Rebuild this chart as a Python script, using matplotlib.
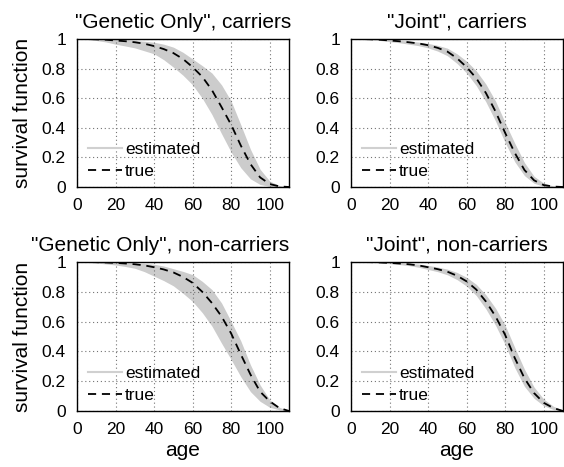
import matplotlib
matplotlib.use("Agg")
import matplotlib.pyplot as plt
from matplotlib.lines import Line2D

plt.rcParams['font.family'] = ['Liberation Sans', 'DejaVu Sans']

# ages and curves (every 5 years)
age = [0, 5, 10, 15, 20, 25, 30, 35, 40, 45, 50, 55, 60, 65, 70, 75, 80, 85, 90, 95, 100, 105, 110]

gen_car_true = [1.0, 1.0, 0.998, 0.995, 0.99, 0.985, 0.978, 0.968, 0.952, 0.932, 0.905, 0.865, 0.81, 0.745,
                0.655, 0.54, 0.42, 0.28, 0.155, 0.065, 0.02, 0.004, 0.0]
gen_car_hi = [1.0, 1.0, 1.0, 0.999, 0.998, 0.995, 0.99, 0.985, 0.978, 0.965, 0.945, 0.91, 0.865, 0.82,
              0.77, 0.69, 0.58, 0.42, 0.255, 0.12, 0.04, 0.01, 0.0]
gen_car_lo = [1.0, 0.997, 0.99, 0.98, 0.965, 0.953, 0.94, 0.92, 0.9, 0.86, 0.81, 0.755, 0.69, 0.6,
              0.49, 0.36, 0.235, 0.13, 0.055, 0.017, 0.004, 0.001, 0.0]

joint_car_true = [1.0, 1.0, 0.998, 0.995, 0.99, 0.985, 0.978, 0.97, 0.958, 0.94, 0.915, 0.87, 0.81, 0.735,
                  0.635, 0.51, 0.365, 0.23, 0.115, 0.045, 0.013, 0.003, 0.0]
joint_car_hi = [1.0, 1.0, 1.0, 0.998, 0.995, 0.991, 0.986, 0.979, 0.97, 0.957, 0.938, 0.9, 0.85, 0.785,
                0.695, 0.58, 0.435, 0.295, 0.165, 0.072, 0.026, 0.007, 0.0]
joint_car_lo = [1.0, 0.999, 0.995, 0.99, 0.982, 0.975, 0.965, 0.955, 0.94, 0.918, 0.887, 0.835, 0.77, 0.685,
                0.575, 0.445, 0.3, 0.17, 0.077, 0.025, 0.005, 0.001, 0.0]

gen_non_true = [1.0, 1.0, 0.999, 0.997, 0.994, 0.99, 0.985, 0.977, 0.965, 0.95, 0.93, 0.9, 0.86, 0.8,
                0.725, 0.635, 0.52, 0.38, 0.245, 0.13, 0.065, 0.02, 0.0]
gen_non_hi = [1.0, 1.0, 1.0, 0.999, 0.998, 0.996, 0.993, 0.99, 0.985, 0.973, 0.955, 0.937, 0.915, 0.87,
              0.815, 0.725, 0.6, 0.47, 0.31, 0.175, 0.075, 0.025, 0.0]
gen_non_lo = [1.0, 0.998, 0.993, 0.987, 0.98, 0.97, 0.958, 0.935, 0.905, 0.875, 0.84, 0.79, 0.735, 0.66,
              0.57, 0.455, 0.345, 0.23, 0.13, 0.065, 0.025, 0.008, 0.0]

joint_non_true = [1.0, 1.0, 0.999, 0.997, 0.994, 0.99, 0.985, 0.977, 0.965, 0.952, 0.935, 0.908, 0.87, 0.815,
                  0.735, 0.635, 0.51, 0.355, 0.22, 0.12, 0.055, 0.02, 0.0]
joint_non_hi = [1.0, 1.0, 1.0, 0.999, 0.998, 0.995, 0.991, 0.986, 0.977, 0.966, 0.952, 0.93, 0.897, 0.85,
                0.78, 0.69, 0.575, 0.425, 0.28, 0.16, 0.08, 0.032, 0.005]
joint_non_lo = [1.0, 0.999, 0.997, 0.994, 0.989, 0.983, 0.976, 0.965, 0.95, 0.935, 0.914, 0.882, 0.838, 0.775,
                0.685, 0.575, 0.445, 0.29, 0.165, 0.085, 0.035, 0.01, 0.0]

titles = ['"Genetic Only", carriers', '"Joint", carriers',
          '"Genetic Only", non-carriers', '"Joint", non-carriers']
xticks = [0, 20, 40, 60, 80, 100]
yticks = [0, 0.2, 0.4, 0.6, 0.8, 1]
ytick_labels = ['0', '0.2', '0.4', '0.6', '0.8', '1']

panels = [
    (gen_car_true, gen_car_lo, gen_car_hi),
    (joint_car_true, joint_car_lo, joint_car_hi),
    (gen_non_true, gen_non_lo, gen_non_hi),
    (joint_non_true, joint_non_lo, joint_non_hi),
]

W, H = 564, 467
fig = plt.figure(figsize=(W / 100, H / 100), dpi=100)

# axes boxes in pixels: left, top, right, bottom
boxes = [(77, 39, 289, 187), (351, 39, 563, 187),
         (77, 262, 289, 411), (351, 262, 563, 411)]

band_color = '#cccccc'
dash = (0, (4.5, 3.2))

for i, (box, (tr, lo, hi)) in enumerate(zip(boxes, panels)):
    l, t, r, b = box
    ax = fig.add_axes([l / W, 1 - b / H, (r - l) / W, (b - t) / H])
    ax.fill_between(age, lo, hi, color=band_color, lw=0)
    ax.plot(age, tr, color='black', lw=1.3, ls=dash)
    ax.set_xlim(0, 110)
    ax.set_ylim(0, 1)
    ax.set_xticks(xticks)
    ax.set_yticks(yticks)
    ax.set_yticklabels(ytick_labels)
    ax.tick_params(length=0, labelsize=12.5, pad=8)
    ax.grid(True, ls=(0, (1, 2.5)), color='0.45', lw=0.8)
    for s in ax.spines.values():
        s.set_linewidth(1.0)
    # the long bottom-left title sits flush with the right edge in the original
    ax.set_title(titles[i], fontsize=15, pad=8, loc='right' if i == 2 else 'center')
    if i % 2 == 0:
        ax.set_ylabel('survival function', fontsize=15, labelpad=7)
    if i >= 2:
        ax.set_xlabel('age', fontsize=15, labelpad=3)

    handles = [Line2D([], [], color='#d0d0d0', lw=1.5),
               Line2D([], [], color='black', lw=1.3, ls=dash)]
    ax.legend(handles, ['estimated', 'true'], loc='lower left', frameon=False,
              bbox_to_anchor=(0.05, 0.055), borderaxespad=0, borderpad=0,
              fontsize=12.5, handlelength=2.0, handletextpad=0.15, labelspacing=0.38)

fig.savefig('out.png', dpi=100)
